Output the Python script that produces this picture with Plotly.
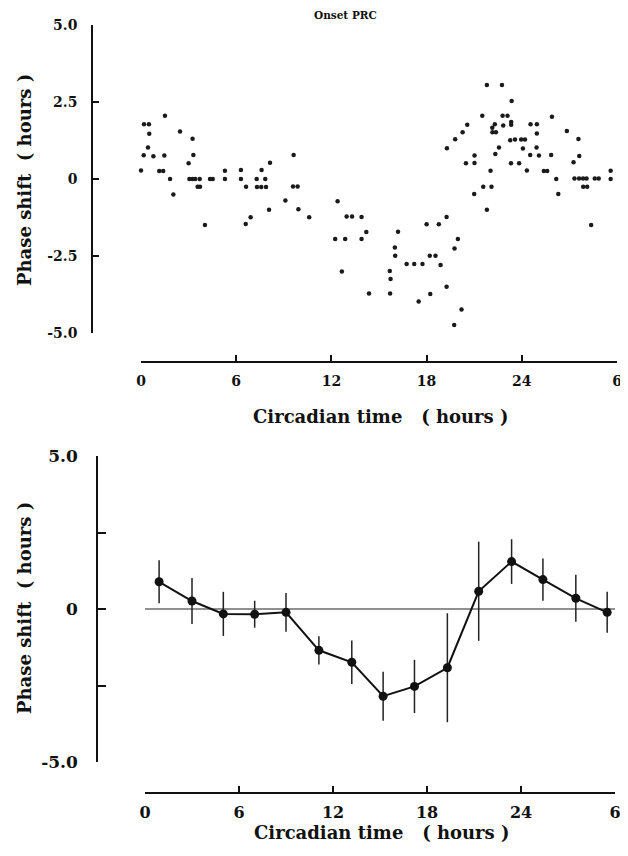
import plotly.graph_objects as go

# --- top panel: individual onset phase shifts ---
onset_ct = [1.51, 0.19, 0.5, 0.52, 2.46, 3.25, 0.44, 0.17, 0.78, 1.47, 3.3, 3.0, 0.0, 1.15, 1.4, 1.83,
            3.05, 3.24, 3.42, 3.7, 3.57, 3.72, 4.35, 4.52, 2.04, 5.29, 5.29, 4.03, 6.3, 6.3, 6.62, 6.6,
            6.91, 7.6, 7.29, 7.83, 7.31, 7.58, 7.88, 8.13, 8.07, 9.1, 9.62, 9.58, 9.87, 9.92,
            10.6, 12.39, 12.96, 13.3, 13.9, 14.2, 16.2, 18.0, 18.77, 19.26, 19.28, 19.8, 12.24, 12.87,
            13.9, 19.97, 12.66, 15.68, 15.73, 16.0, 16.02, 14.37, 15.7, 16.74, 17.22, 17.74, 18.2, 18.56,
            18.88, 19.76, 19.26, 18.23, 17.5, 19.74, 21.0, 21.57, 22.09, 21.8, 20.2, 26.3, 27.87, 28.12,
            28.37, 23.36, 21.51, 22.79, 23.1, 25.9, 20.56, 22.3, 22.83, 23.33, 23.33, 22.14, 22.15, 22.37,
            24.55, 24.95, 24.95, 20.27, 26.84, 27.57, 23.27, 23.57, 23.96, 24.2, 22.56, 24.07, 24.93,
            21.02, 21.02, 20.48, 22.33, 23.32, 23.83, 24.53, 25.08, 25.85, 27.62, 27.26, 22.03, 24.32,
            25.39, 25.6, 26.17, 27.32, 27.61, 27.86, 28.08, 28.6, 28.85, 29.6, 29.6, 21.8, 22.75]
onset_shift = [2.05, 1.78, 1.78, 1.47, 1.54, 1.31, 1.02, 0.77, 0.74, 0.76, 0.78, 0.51, 0.28, 0.26, 0.26, 0.0,
               0.0, 0.0, 0.0, 0.0, -0.25, -0.25, 0.0, 0.0, -0.5, 0.27, 0.0, -1.49, 0.29, 0.0, -0.25, -1.46,
               -1.24, 0.29, 0.0, 0.0, -0.26, -0.26, -0.26, 0.53, -1.0, -0.7, 0.78, -0.24, -0.24, -0.98,
               -1.24, -0.72, -1.22, -1.22, -1.23, -1.72, -1.71, -1.47, -1.47, -1.23, 1.0, 1.29, -1.95, -1.95,
               -1.95, -1.95, -3.0, -2.99, -3.25, -2.22, -2.49, -3.72, -3.72, -2.76, -2.76, -2.76, -2.49, -2.49,
               -2.79, -2.26, -3.5, -3.73, -3.98, -4.74, -0.49, -0.25, -0.25, -1.0, -4.24, -0.49, -0.25, -0.25,
               -1.49, 2.53, 2.05, 2.05, 2.05, 2.02, 1.76, 1.78, 1.74, 1.85, 1.76, 1.66, 1.52, 1.52,
               1.78, 1.78, 1.48, 1.52, 1.56, 1.3, 1.26, 1.28, 1.28, 1.28, 1.02, 0.99, 1.02,
               0.76, 0.52, 0.51, 0.81, 0.51, 0.51, 0.78, 0.76, 0.78, 0.75, 0.54, 0.27, 0.28,
               0.26, 0.26, 0.0, 0.02, 0.02, 0.02, 0.02, 0.02, 0.02, 0.27, 0.0, 3.05, 3.05]

# --- bottom panel: binned means +/- error ---
bin_ct = [0.9, 3.0, 5.0, 7.0, 9.0, 11.1, 13.2, 15.2, 17.2, 19.3, 21.3, 23.4, 25.4, 27.5, 29.5]
mean_shift = [0.89, 0.26, -0.16, -0.17, -0.11, -1.35, -1.74, -2.85, -2.53, -1.92, 0.58, 1.55, 0.96, 0.35, -0.11]
err_shift = [0.7, 0.75, 0.72, 0.44, 0.63, 0.46, 0.71, 0.8, 0.87, 1.78, 1.62, 0.73, 0.69, 0.77, 0.67]

zero_x = [-0.2, 30.5]
zero_y = [0, 0]

x_ticks = [0, 6, 12, 18, 24, 30]
x_text = ["0", "6", "12", "18", "24", "6"]

# page body adds an 8px margin, so the figure is shifted by that much
OFF = 8
W, H = 628 - OFF, 856 - OFF
FONT = "DejaVu Serif"


def px(v):
    return (v - OFF) / W


def py(v):
    return 1 - (v - OFF) / H


fig = go.Figure()

fig.add_trace(go.Scatter(x=onset_ct, y=onset_shift, mode="markers",
                         marker=dict(color="#1a1a1a", size=4.5, symbol="circle"),
                         xaxis="x", yaxis="y", cliponaxis=False, showlegend=False))

fig.add_trace(go.Scatter(x=zero_x, y=zero_y, mode="lines",
                         line=dict(color="#222", width=1.2),
                         xaxis="x2", yaxis="y2", cliponaxis=False, showlegend=False))

fig.add_trace(go.Scatter(x=bin_ct, y=mean_shift, mode="lines+markers",
                         line=dict(color="#111", width=2),
                         marker=dict(color="#111", size=9),
                         error_y=dict(type="data", array=err_shift, color="#222", thickness=1.5, width=0),
                         xaxis="x2", yaxis="y2", cliponaxis=False, showlegend=False))

axis_common = dict(showline=True, linecolor="#111", linewidth=1.5, ticks="inside",
                   tickcolor="#111", tickwidth=1.5, showgrid=False, zeroline=False,
                   tickmode="array", automargin=False)

fig.update_layout(
    template="none",
    width=W, height=H,
    margin=dict(l=0, r=0, t=0, b=0, autoexpand=False),
    paper_bgcolor="white", plot_bgcolor="white",
    xaxis=dict(domain=[px(141), px(617)], range=[0, 30], anchor="free", position=py(362),
               tickvals=x_ticks, ticktext=x_text, ticklen=6, ticklabelstandoff=6,
               tickfont=dict(family=FONT, size=14, color="#111", weight="bold"), **axis_common),
    yaxis=dict(domain=[py(333), py(25)], range=[-5, 5], anchor="free", position=px(92),
               tickvals=[-5, -2.5, 0, 2.5, 5], ticktext=["-5.0", "-2.5", "0", "2.5", "5.0"],
               ticklen=6, ticklabelstandoff=11,
               tickfont=dict(family=FONT, size=14, color="#111", weight="bold"), **axis_common),
    xaxis2=dict(domain=[px(145), px(615)], range=[0, 30], anchor="free", position=py(793),
                tickvals=x_ticks, ticktext=x_text, ticklen=6, ticklabelstandoff=5,
                tickfont=dict(family=FONT, size=16, color="#111", weight="bold"), **axis_common),
    yaxis2=dict(domain=[py(762), py(456)], range=[-5, 5], anchor="free", position=px(97),
                tickvals=[-5, -2.5, 0, 2.5, 5], ticktext=["-5.0", "", "0", "", "5.0"],
                ticklen=8, ticklabelstandoff=15,
                tickfont=dict(family=FONT, size=17, color="#111", weight="bold"), **axis_common),
)

title_font = dict(family=FONT, size=18, color="#111", weight="bold")
x_title = "Circadian time \u00a0 ( hours\u00a0)"
y_title = "Phase shift \u00a0( hours )"
notes = [
    dict(text="Onset PRC", x=px(345), y=py(15), font=dict(family=FONT, size=10.5, color="#111", weight="bold")),
    dict(text=x_title, x=px(381), y=py(417), font=title_font),
    dict(text=x_title, x=px(382), y=py(832), font=title_font),
    dict(text=y_title, x=px(24), y=py(180), font=title_font, textangle=-90),
    dict(text=y_title, x=px(24), y=py(608), font=title_font, textangle=-90),
]
for n in notes:
    fig.add_annotation(xref="paper", yref="paper", xanchor="center", yanchor="middle",
                       showarrow=False, **n)

fig.write_html("out.html")
